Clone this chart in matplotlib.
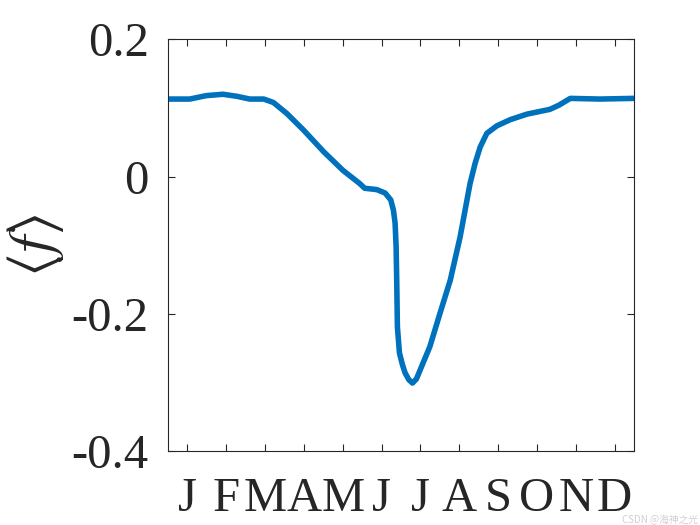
import numpy as np
import matplotlib
matplotlib.use('Agg')
import matplotlib.pyplot as plt

# day of year and mean value <f>
days = [0, 17, 30, 43, 54, 64, 75, 82.5, 93, 106, 122, 137, 150, 154, 163.5,
        170, 174.4, 176.5, 177.8, 178.6, 179.1, 179.6, 181.2, 183.5, 185.6,
        188.5, 191.4, 194.5, 197.4, 205, 213, 221, 228.7, 232.6, 236.5, 240.4,
        244.4, 249.6, 257.5, 268, 281, 299, 306, 315, 338, 365]
f_mean = [0.113, 0.113, 0.118, 0.120, 0.117, 0.113, 0.113, 0.108, 0.092, 0.068,
          0.036, 0.009, -0.010, -0.017, -0.019, -0.024, -0.034, -0.049, -0.068,
          -0.102, -0.155, -0.219, -0.257, -0.274, -0.286, -0.296, -0.301,
          -0.295, -0.282, -0.248, -0.199, -0.151, -0.088, -0.049, -0.010, 0.019,
          0.043, 0.063, 0.074, 0.083, 0.091, 0.098, 0.104, 0.114, 0.113, 0.114]
months = ['J', 'F', 'M', 'A', 'M', 'J', 'J', 'A', 'S', 'O', 'N', 'D']
month_mid = [15.2 + 30.4 * k for k in range(12)]
yticks = [-0.4, -0.2, 0, 0.2]
ytick_labels = ['-0.4', '-0.2', '0', '0.2']

plt.rcParams['font.family'] = ['Liberation Serif', 'DejaVu Serif']
plt.rcParams['mathtext.fontset'] = 'stix'

fig = plt.figure(figsize=(7, 5.25), dpi=100)
ax = fig.add_axes([0.24, 0.141, 0.666, 0.784])

ax.plot(days, f_mean, color='#0072BD', lw=4, solid_capstyle='round',
        solid_joinstyle='round')

ax.set_xlim(0, 365)
ax.set_ylim(-0.4, 0.2)
ax.set_xticks(month_mid)
ax.set_xticklabels(months)
ax.set_yticks(yticks)
ax.set_yticklabels(ytick_labels)
ax.tick_params(direction='in', top=True, right=True, length=5, width=0.8,
               labelsize=35, color='#262626', labelcolor='#262626')
ax.tick_params(axis='x', pad=19)
ax.tick_params(axis='y', pad=14)
for s in ax.spines.values():
    s.set_linewidth(0.8)
    s.set_color('#262626')

ax.set_ylabel(r'$\langle f \rangle$', fontsize=44, color='#262626', labelpad=4)

# faint watermark in the bottom right corner
fig.text(0.998, 0.0, 'CSDN @海神之光', ha='right', va='bottom', fontsize=7,
         color='#d0d0d0', family=['Noto Sans CJK SC', 'DejaVu Sans'])

fig.savefig('out.png', dpi=100)
plt.close(fig)
